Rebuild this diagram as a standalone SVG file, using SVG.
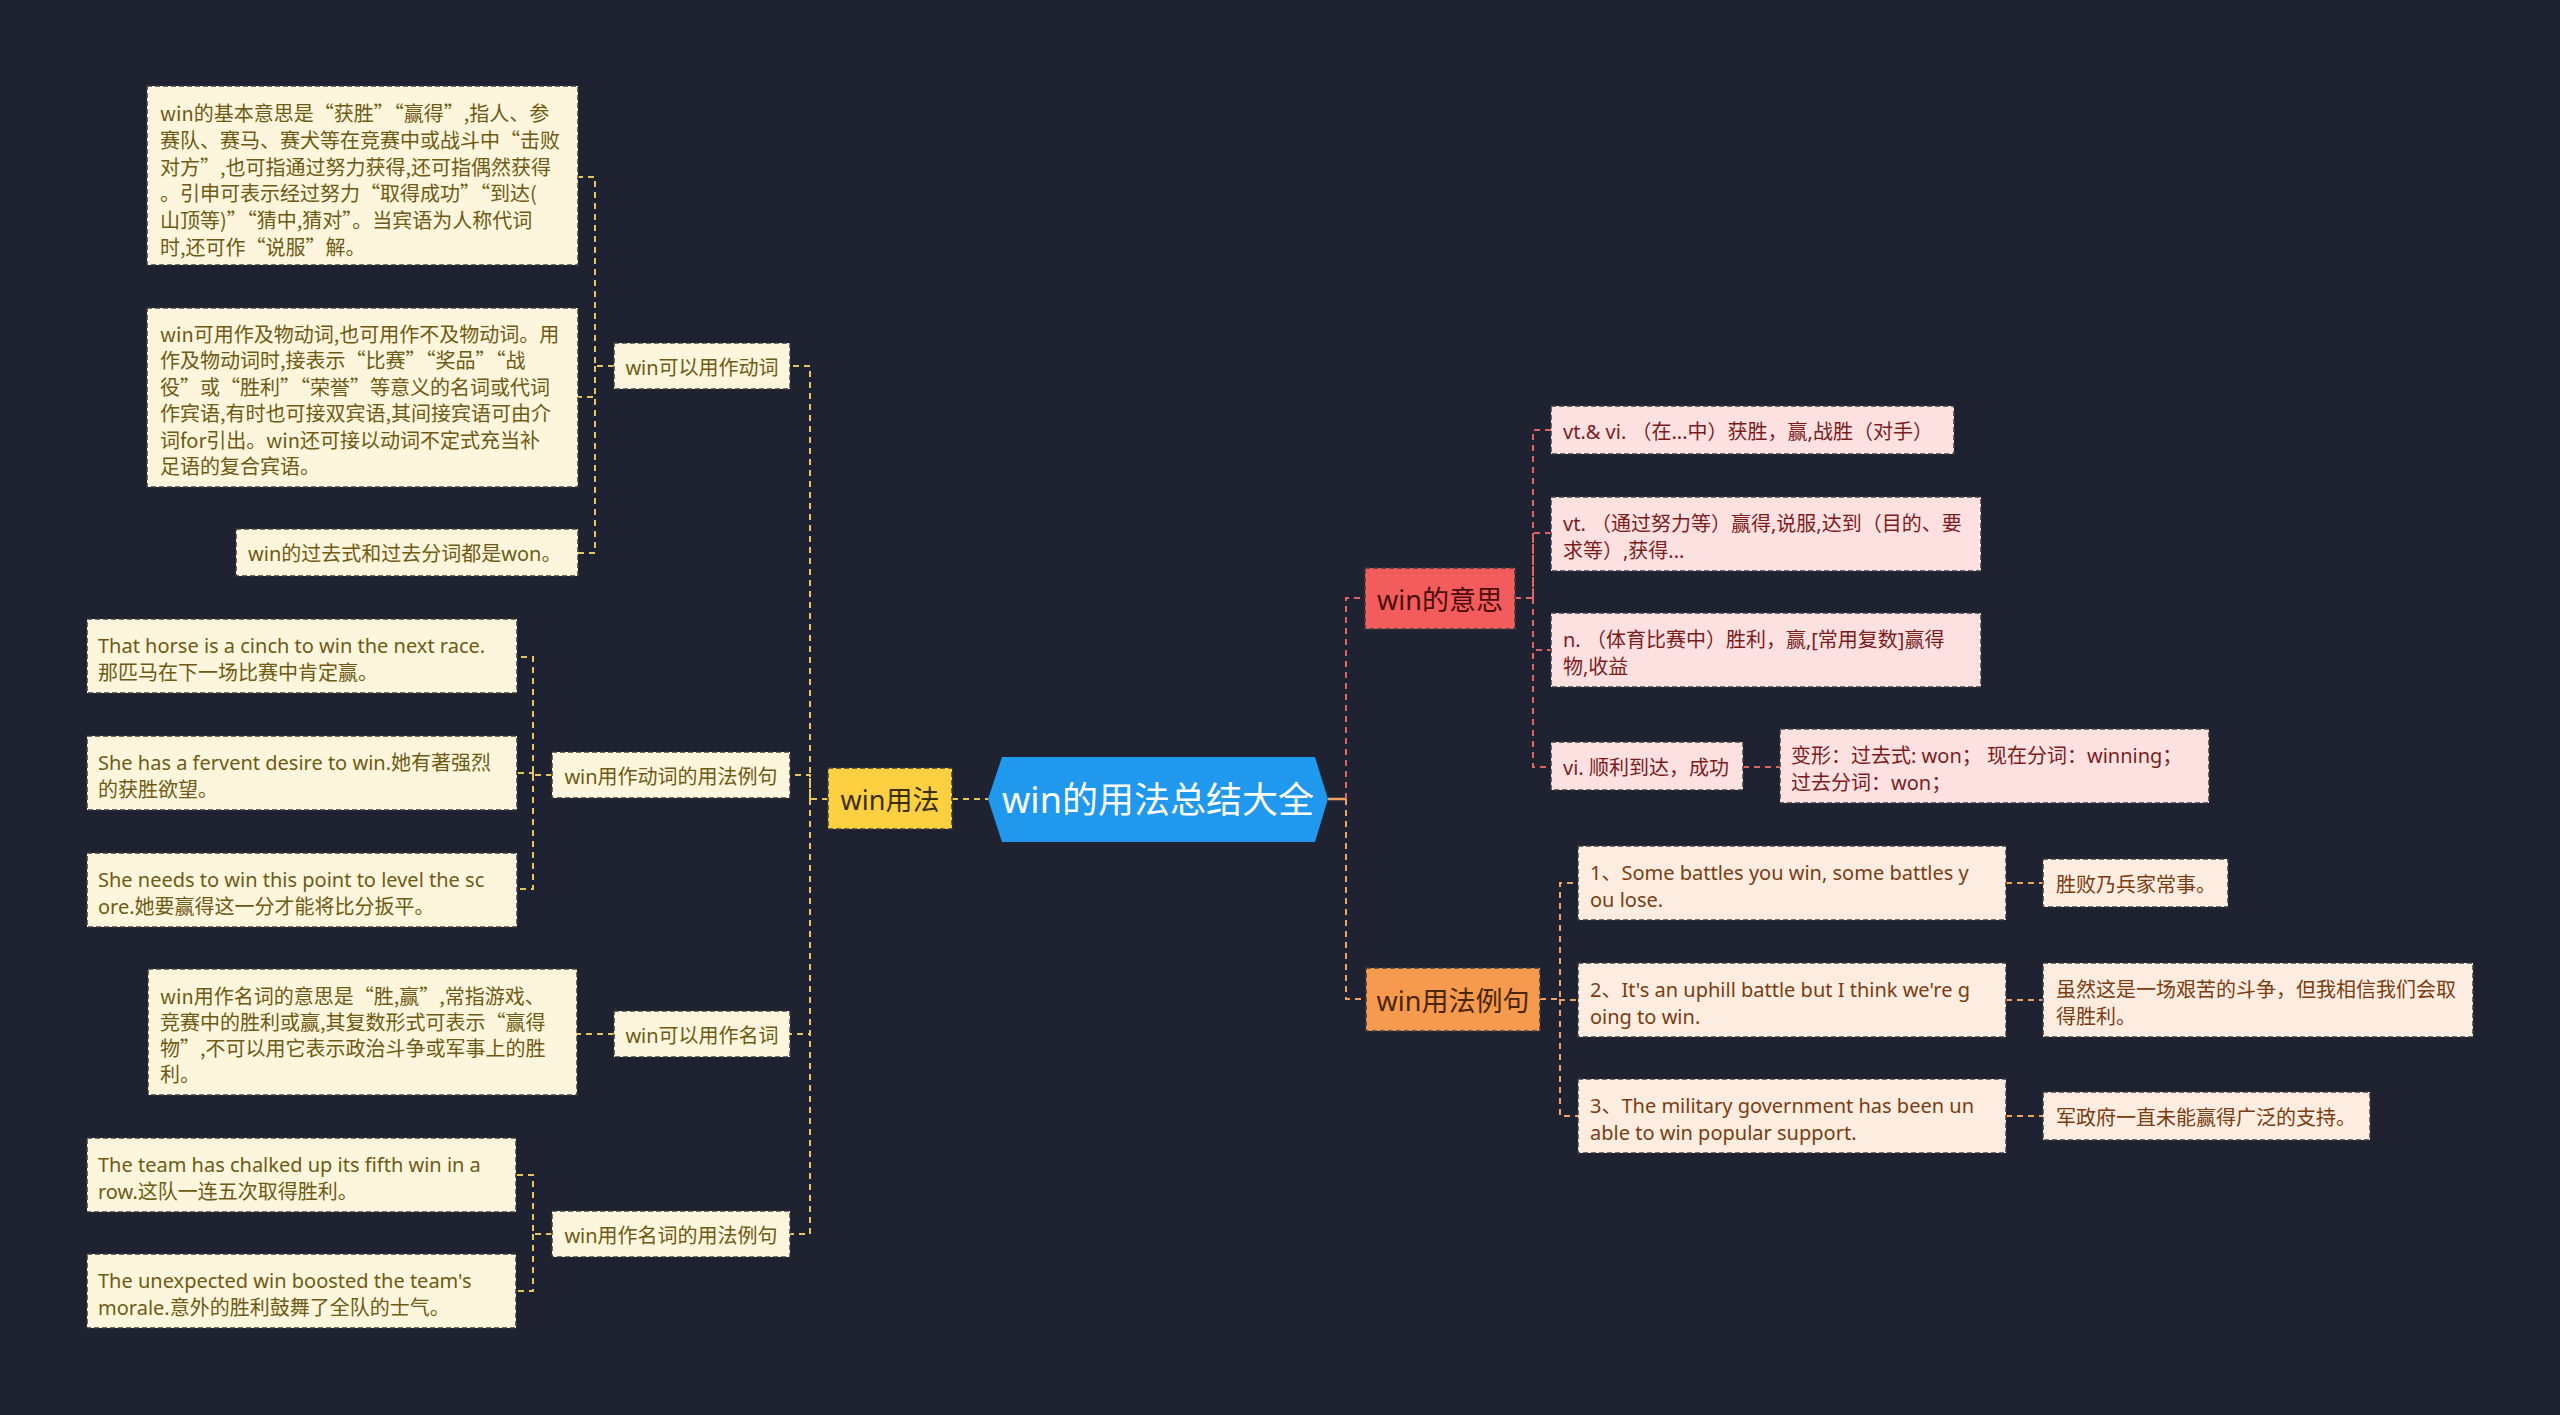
<svg xmlns="http://www.w3.org/2000/svg" width="2560" height="1415" viewBox="0 0 2560 1415">
<style>
text{font-family:"Noto Sans","Noto Sans CJK SC",sans-serif;dominant-baseline:central}
.cjk{font-family:"Noto Sans CJK SC","Noto Sans",sans-serif}
.bx{stroke:#3c3c3c;stroke-width:1.5;stroke-dasharray:5 3}
.cream{fill:#fdf6dc}
.pink{fill:#fde1e1}
.peach{fill:#fdede0}
.tl{font-size:20px;fill:#6e5a14}
.tp{font-size:20px;fill:#7b1c1c}
.to{font-size:20px;fill:#7a3c10}
.cl{fill:none;stroke-width:2;stroke-dasharray:6 5}
.cy{stroke:#e6c65e}
.cr{stroke:#e06464}
.co{stroke:#f0a464}
.mid{text-anchor:middle}
</style>
<rect width="2560" height="1415" fill="#1f2230"/>
<g id="connectors">
<path class="cl cy" d="M952 799H988"/>
<path class="cl cy" d="M828 799H810V366H790M810 799V775H790M810 799V1034H790M810 799V1234H790"/>
<path class="cl cy" d="M614 366H595V177H578M595 366V397H578M595 366V553H578"/>
<path class="cl cy" d="M552 775H533V657H517M533 775V773H517M533 775V889H517"/>
<path class="cl cy" d="M614 1034H577"/>
<path class="cl cy" d="M552 1234H533V1175H516M533 1234V1291H516"/>
<path d="M1328 799H1346" stroke="#f0a464" stroke-width="2.5" fill="none"/>
<path class="cl cr" d="M1346 799V598H1365"/>
<path class="cl co" d="M1346 799V999H1366"/>
<path class="cl cr" d="M1515 598H1533V430H1551M1533 598V533H1551M1533 598V650H1551M1533 598V767H1551"/>
<path class="cl cr" d="M1743 767H1780"/>
<path class="cl co" d="M1540 999H1560V883H1578M1560 999V1000H1578M1560 999V1116H1578"/>
<path class="cl co" d="M2006 883H2043M2006 1000H2043M2006 1116H2043"/>
</g>
<g id="root">
<polygon points="988,799 1002,757 1315,757 1328,799 1315,842 1002,842" fill="#1f98ee"/>
<text x="1158" y="799" class="mid" font-size="36" fill="#ffffff">win的用法总结大全</text>
</g>
<g id="n-usage">
<rect x="828" y="768" width="124" height="61" fill="#fcd040" class="bx"/>
<text x="890" y="799" class="mid" font-size="27" fill="#3a2e00">win用法</text>
</g>
<g id="n-verb">
<rect x="614" y="343" width="176" height="46" class="bx cream"/>
<text x="702" y="367" class="mid tl">win可以用作动词</text>
</g>
<g id="n-verb-ex">
<rect x="552" y="752" width="238" height="46" class="bx cream"/>
<text x="671" y="776" class="mid tl" font-size="19">win用作动词的用法例句</text>
</g>
<g id="n-noun">
<rect x="614" y="1011" width="176" height="46" class="bx cream"/>
<text x="702" y="1035" class="mid tl">win可以用作名词</text>
</g>
<g id="n-noun-ex">
<rect x="552" y="1211" width="238" height="46" class="bx cream"/>
<text x="671" y="1235" class="mid tl" font-size="19">win用作名词的用法例句</text>
</g>
<g id="leaf-a">
<rect x="147" y="86" width="431" height="179" class="bx cream"/>
<text class="tl cjk"><tspan x="160" y="112">win的基本意思是“获胜”“赢得”,指人、参</tspan><tspan x="160" y="138.8">赛队、赛马、赛犬等在竞赛中或战斗中“击败</tspan><tspan x="160" y="165.6">对方”,也可指通过努力获得,还可指偶然获得</tspan><tspan x="160" y="192.4">。引申可表示经过努力“取得成功”“到达(</tspan><tspan x="160" y="219.2">山顶等)”“猜中,猜对”。当宾语为人称代词</tspan><tspan x="160" y="246">时,还可作“说服”解。</tspan></text>
</g>
<g id="leaf-b">
<rect x="147" y="308" width="431" height="179" class="bx cream"/>
<text class="tl cjk"><tspan x="160" y="333">win可用作及物动词,也可用作不及物动词。用</tspan><tspan x="160" y="359.4">作及物动词时,接表示“比赛”“奖品”“战</tspan><tspan x="160" y="385.8">役”或“胜利”“荣誉”等意义的名词或代词</tspan><tspan x="160" y="412.2">作宾语,有时也可接双宾语,其间接宾语可由介</tspan><tspan x="160" y="438.6">词for引出。win还可接以动词不定式充当补</tspan><tspan x="160" y="465">足语的复合宾语。</tspan></text>
</g>
<g id="leaf-c">
<rect x="236" y="529" width="342" height="47" class="bx cream"/>
<text x="248" y="553" class="tl">win的过去式和过去分词都是won。</text>
</g>
<g id="leaf-d">
<rect x="87" y="619" width="430" height="74" class="bx cream"/>
<text class="tl"><tspan x="98" y="645">That horse is a cinch to win the next race.</tspan><tspan x="98" y="672">那匹马在下一场比赛中肯定赢。</tspan></text>
</g>
<g id="leaf-e">
<rect x="87" y="736" width="430" height="74" class="bx cream"/>
<text class="tl"><tspan x="98" y="761.5">She has a fervent desire to win.她有著强烈</tspan><tspan x="98" y="788.5">的获胜欲望。</tspan></text>
</g>
<g id="leaf-f">
<rect x="87" y="853" width="430" height="74" class="bx cream"/>
<text class="tl"><tspan x="98" y="878.5">She needs to win this point to level the sc</tspan><tspan x="98" y="905.5">ore.她要赢得这一分才能将比分扳平。</tspan></text>
</g>
<g id="leaf-g">
<rect x="148" y="969" width="429" height="126" class="bx cream"/>
<text class="tl cjk"><tspan x="160" y="995">win用作名词的意思是“胜,赢”,常指游戏、</tspan><tspan x="160" y="1021">竞赛中的胜利或赢,其复数形式可表示“赢得</tspan><tspan x="160" y="1047">物”,不可以用它表示政治斗争或军事上的胜</tspan><tspan x="160" y="1073">利。</tspan></text>
</g>
<g id="leaf-h">
<rect x="87" y="1138" width="429" height="74" class="bx cream"/>
<text class="tl"><tspan x="98" y="1163.5">The team has chalked up its fifth win in a</tspan><tspan x="98" y="1190.5">row.这队一连五次取得胜利。</tspan></text>
</g>
<g id="leaf-i">
<rect x="87" y="1254" width="429" height="74" class="bx cream"/>
<text class="tl"><tspan x="98" y="1279.5">The unexpected win boosted the team's</tspan><tspan x="98" y="1306.5">morale.意外的胜利鼓舞了全队的士气。</tspan></text>
</g>
<g id="n-meaning">
<rect x="1365" y="568" width="150" height="61" fill="#f25c5c" class="bx"/>
<text x="1440" y="599" class="mid" font-size="27" fill="#4a0c0c">win的意思</text>
</g>
<g id="r1">
<rect x="1551" y="406" width="403" height="48" class="bx pink"/>
<text x="1563" y="431" class="tp">vt.&amp; vi. （在...中）获胜，赢,战胜（对手）</text>
</g>
<g id="r2">
<rect x="1551" y="497" width="430" height="74" class="bx pink"/>
<text class="tp"><tspan x="1563" y="522.5">vt. （通过努力等）赢得,说服,达到（目的、要</tspan><tspan x="1563" y="549.5">求等）,获得...</tspan></text>
</g>
<g id="r3">
<rect x="1551" y="613" width="430" height="74" class="bx pink"/>
<text class="tp"><tspan x="1563" y="638.5">n. （体育比赛中）胜利，赢,[常用复数]赢得</tspan><tspan x="1563" y="665.5">物,收益</tspan></text>
</g>
<g id="r4">
<rect x="1551" y="742" width="192" height="48" class="bx pink"/>
<text x="1563" y="767" class="tp">vi. 顺利到达，成功</text>
</g>
<g id="r5">
<rect x="1780" y="729" width="429" height="74" class="bx pink"/>
<text class="tp"><tspan x="1791" y="754.5">变形：过去式: won；  现在分词：winning；</tspan><tspan x="1791" y="781.5">过去分词：won；</tspan></text>
</g>
<g id="n-examples">
<rect x="1366" y="968" width="174" height="63" fill="#f59a4e" class="bx"/>
<text x="1453" y="1000" class="mid" font-size="27" fill="#4a2500">win用法例句</text>
</g>
<g id="p1">
<rect x="1578" y="846" width="428" height="74" class="bx peach"/>
<text class="to"><tspan x="1590" y="871.5">1、Some battles you win, some battles y</tspan><tspan x="1590" y="898.5">ou lose.</tspan></text>
</g>
<g id="p2">
<rect x="1578" y="963" width="428" height="74" class="bx peach"/>
<text class="to"><tspan x="1590" y="988.5">2、It's an uphill battle but I think we're g</tspan><tspan x="1590" y="1015.5">oing to win.</tspan></text>
</g>
<g id="p3">
<rect x="1578" y="1079" width="428" height="74" class="bx peach"/>
<text class="to"><tspan x="1590" y="1104.5">3、The military government has been un</tspan><tspan x="1590" y="1131.5">able to win popular support.</tspan></text>
</g>
<g id="q1">
<rect x="2043" y="859" width="185" height="48" class="bx peach"/>
<text x="2056" y="884" class="to">胜败乃兵家常事。</text>
</g>
<g id="q2">
<rect x="2043" y="963" width="430" height="74" class="bx peach"/>
<text class="to"><tspan x="2056" y="988.5">虽然这是一场艰苦的斗争，但我相信我们会取</tspan><tspan x="2056" y="1015.5">得胜利。</tspan></text>
</g>
<g id="q3">
<rect x="2043" y="1092" width="327" height="48" class="bx peach"/>
<text x="2056" y="1117" class="to">军政府一直未能赢得广泛的支持。</text>
</g>
</svg>
